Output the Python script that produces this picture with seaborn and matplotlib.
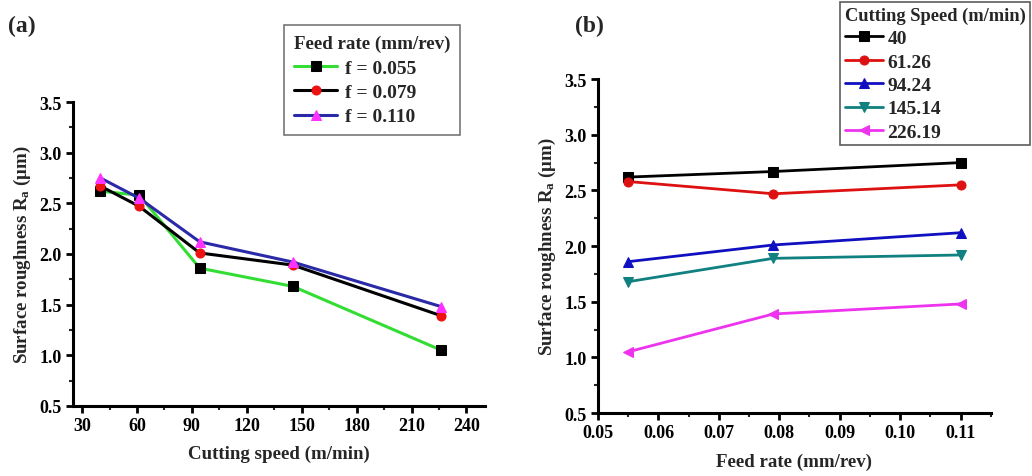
import matplotlib
matplotlib.use("Agg")
import matplotlib.pyplot as plt
import seaborn as sns
import numpy as np
import pandas as pd
from matplotlib.ticker import MultipleLocator, AutoMinorLocator

# ---- data ----
speeds = [40, 61.26, 94.24, 145.14, 226.19]
feeds = [0.055, 0.079, 0.110]
ra_f055 = [2.62, 2.58, 1.86, 1.68, 1.05]
ra_f079 = [2.67, 2.47, 2.01, 1.89, 1.39]
ra_f110 = [2.75, 2.55, 2.12, 1.92, 1.48]
feed_labels = ["f = 0.055", "f = 0.079", "f = 0.110"]
speed_labels = ["40", "61.26", "94.24", "145.14", "226.19"]

sns.set_theme(style="ticks")
plt.rcParams['font.family'] = ['Liberation Serif', 'DejaVu Serif']
plt.rcParams['font.weight'] = 'bold'
plt.rcParams['mathtext.fontset'] = 'custom'
plt.rcParams['mathtext.rm'] = 'Liberation Serif:bold'
plt.rcParams['mathtext.it'] = 'Liberation Serif:bold'
plt.rcParams['mathtext.bf'] = 'Liberation Serif:bold'

fig = plt.figure(figsize=(10.32, 4.77), dpi=100)
axL = fig.add_axes([0.0707, 0.147, 0.399, 0.637])
axR = fig.add_axes([0.5795, 0.132, 0.3805, 0.700])

by_feed = [ra_f055, ra_f079, ra_f110]
line_cols_L = ["#33dd33", "#000000", "#2a2aa8"]
mk_cols_L = ["#000000", "#ee1111", "#ff33ff"]
markers_L = ["s", "o", "^"]
for vals, lab, lc, mc, m in zip(by_feed, feed_labels, line_cols_L, mk_cols_L, markers_L):
    df = pd.DataFrame({"speed": speeds, "ra": vals})
    sns.lineplot(data=df, x="speed", y="ra", ax=axL, color=lc, marker=m,
                 markerfacecolor=mc, markeredgecolor=mc, markersize=6.5,
                 linewidth=2.2, label=lab)

by_speed = np.array(by_feed).T
line_cols_R = ["#000000", "#dd1111", "#1010c0", "#108080", "#ee33ee"]
markers_R = ["s", "o", "^", "v", "<"]
for vals, lab, lc, m in zip(by_speed, speed_labels, line_cols_R, markers_R):
    df = pd.DataFrame({"feed": feeds, "ra": vals})
    sns.lineplot(data=df, x="feed", y="ra", ax=axR, color=lc, marker=m,
                 markerfacecolor=lc, markeredgecolor=lc, markersize=6.5,
                 linewidth=2.0, label=lab)

for ax in (axL, axR):
    for s in ("top", "right"):
        ax.spines[s].set_visible(False)
    for s in ("left", "bottom"):
        ax.spines[s].set_linewidth(2.2)
        ax.spines[s].set_color("black")
    ax.tick_params(axis="both", which="major", direction="out", length=5, width=2,
                   labelsize=13, colors="black", pad=3)
    ax.tick_params(axis="both", which="minor", direction="out", length=3, width=1.5)
    ax.set_ylim(0.5, 3.5)
    ax.yaxis.set_major_locator(MultipleLocator(0.5))
    ax.yaxis.set_minor_locator(AutoMinorLocator(2))
    ax.xaxis.set_minor_locator(AutoMinorLocator(2))
    ax.yaxis.set_major_formatter(matplotlib.ticker.FormatStrFormatter("%.1f"))
    ax.set_ylabel("Surface roughness R$_{\\mathregular{a}}$ (μm)", fontsize=13.6,
                  fontweight="bold", labelpad=5)
    for t in ax.get_xticklabels() + ax.get_yticklabels():
        t.set_fontweight("bold")

axL.set_xlim(25, 250)
axL.xaxis.set_major_locator(MultipleLocator(30))
axL.set_xlabel("Cutting speed (m/min)", fontsize=13.6, fontweight="bold", labelpad=8)

axR.set_xlim(0.05, 0.115)
axR.xaxis.set_major_locator(MultipleLocator(0.01))
axR.xaxis.set_major_formatter(matplotlib.ticker.FormatStrFormatter("%.2f"))
axR.set_xlabel("Feed rate (mm/rev)", fontsize=13.6, fontweight="bold", labelpad=8)

legL = axL.legend(title="Feed rate (mm/rev)", loc="upper left",
                  bbox_to_anchor=(0.49, 1.285), frameon=True, fancybox=False,
                  edgecolor="#555555", prop={"weight": "bold", "size": 14},
                  title_fontproperties={"weight": "bold", "size": 13.7},
                  handlelength=2.2, handletextpad=0.4, labelspacing=0.35,
                  borderpad=0.5)
legL._legend_box.align = "left"
legL.get_frame().set_linewidth(1.2)

legR = axR.legend(title="Cutting Speed (m/min)", loc="upper left",
                  bbox_to_anchor=(0.592, 1.26), frameon=True, fancybox=False,
                  edgecolor="#333333", prop={"weight": "bold", "size": 14},
                  title_fontproperties={"weight": "bold", "size": 13.3},
                  handlelength=2.0, handletextpad=0.2, labelspacing=0.3,
                  borderpad=0.22)
legR._legend_box.align = "left"
legR.get_frame().set_linewidth(1.2)

fig.text(0.008, 0.945, "(a)", fontsize=17, fontweight="bold", ha="left", va="center")
fig.text(0.557, 0.945, "(b)", fontsize=17, fontweight="bold", ha="left", va="center")

fig.savefig("out.png", dpi=100)
